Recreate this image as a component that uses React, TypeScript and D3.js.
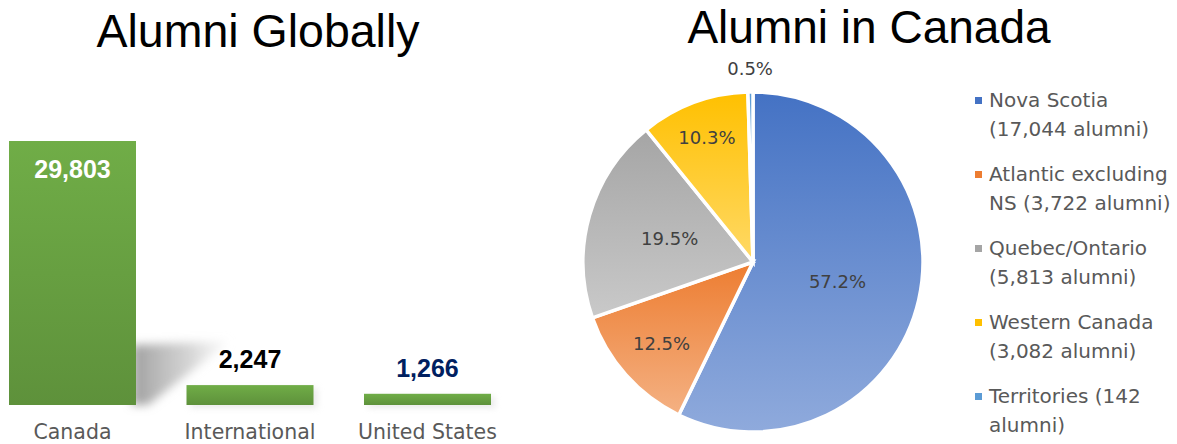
import React from "react";
import * as d3 from "d3";

const globalCategories = ["Canada", "International", "United States"];
const globalValues = [29803, 2247, 1266];

const canadaRegions = ["Nova Scotia", "Atlantic excluding NS", "Quebec/Ontario", "Western Canada", "Territories"];
const canadaValues = [17044, 3722, 5813, 3082, 142];
const legendLines = [
  ["Nova Scotia", "(17,044 alumni)"],
  ["Atlantic excluding", "NS (3,722 alumni)"],
  ["Quebec/Ontario", "(5,813 alumni)"],
  ["Western Canada", "(3,082 alumni)"],
  ["Territories (142", "alumni)"],
];

const valueColors = ["#ffffff", "#000000", "#002060"];
const sliceTop = ["#4472C4", "#ED7D31", "#A5A5A5", "#FFC000", "#5B9BD5"];
const sliceBottom = ["#8FAADC", "#F4B183", "#C9C9C9", "#FFD966", "#9DC3E6"];
const labelRadiusFactor = [0.51, 0.72, 0.51, 0.78, 1.14];

export default function App() {
  const W = 1177, H = 444;
  const x = d3.scaleBand<string>().domain(globalCategories).range([9, 491]).paddingInner(0.2845).paddingOuter(0);
  const y = d3.scaleLinear().domain([0, 29803]).range([405, 141]);
  const fmt = d3.format(",");

  const cx = 753, cy = 262, R = 170;
  const total = d3.sum(canadaValues);
  const pie = d3.pie<number>().sort(null).startAngle(0).endAngle(2 * Math.PI);
  const arcs = pie(canadaValues);
  const arc = d3.arc<d3.PieArcDatum<number>>().innerRadius(0).outerRadius(R);
  const pct = d3.format(".1%");
  const font = "'DejaVu Sans', sans-serif";

  const x0 = (x("Canada") as number) + x.bandwidth();
  const yb = y(0);

  return (
    <svg width={W} height={H} style={{ position: "absolute", left: 0, top: 0, background: "#fff" }}>
      <defs>
        <linearGradient id="barGrad" x1="0" y1="0" x2="0" y2="1">
          <stop offset="0" stopColor="#70AD47" />
          <stop offset="1" stopColor="#5E913B" />
        </linearGradient>
        <linearGradient id="shGrad" x1="0" y1="0" x2="1" y2="0">
          <stop offset="0" stopColor="#9a9a9a" stopOpacity={0.95} />
          <stop offset="0.6" stopColor="#c4c4c4" stopOpacity={0.7} />
          <stop offset="1" stopColor="#e6e6e6" stopOpacity={0.2} />
        </linearGradient>
        <filter id="blur" x="-50%" y="-50%" width="200%" height="200%">
          <feGaussianBlur stdDeviation="5" />
        </filter>
        <filter id="blurS" x="-50%" y="-50%" width="200%" height="200%">
          <feGaussianBlur stdDeviation="3" />
        </filter>
        {arcs.map((a, i) => (
          <linearGradient key={i} id={`sg${i}`} x1="0" y1="0" x2="0" y2="1">
            <stop offset="0" stopColor={sliceTop[i]} />
            <stop offset="1" stopColor={sliceBottom[i]} />
          </linearGradient>
        ))}
      </defs>

      {/* Titles */}
      <text x={258} y={47} textAnchor="middle" fontFamily="'Liberation Sans', Arial, sans-serif" fontSize={46.5} fill="#000">Alumni Globally</text>
      <text x={869} y={43} textAnchor="middle" fontFamily="'Liberation Sans', Arial, sans-serif" fontSize={46} fill="#000">Alumni in Canada</text>

      {/* Bar shadows */}
      <polygon
        points={`${x0 - 4},${yb - 60} ${x0 + 94},${yb - 64} ${x0 + 12},${yb} ${x0 - 4},${yb}`}
        fill="url(#shGrad)"
        filter="url(#blur)"
      />
      {globalCategories.slice(1).map((c, i) => (
        <rect key={c} x={(x(c) as number) + 4} y={y(globalValues[i + 1]) + 3} width={x.bandwidth()} height={y(0) - y(globalValues[i + 1])} fill="#d6d6d6" opacity={0.5} filter="url(#blurS)" />
      ))}

      {/* Bars */}
      {globalCategories.map((c, i) => (
        <rect key={c} x={x(c)} y={y(globalValues[i])} width={x.bandwidth()} height={y(0) - y(globalValues[i])} fill="url(#barGrad)" />
      ))}

      {/* Bar value labels */}
      {globalCategories.map((c, i) => {
        const inside = i === 0;
        const ty = inside ? y(globalValues[i]) + 37 : y(globalValues[i]) - 17;
        return (
          <text key={c} x={(x(c) as number) + x.bandwidth() / 2} y={ty} textAnchor="middle" fontFamily="'Liberation Sans', Arial, sans-serif" fontWeight="bold" fontSize={25} fill={valueColors[i]}>
            {fmt(globalValues[i])}
          </text>
        );
      })}

      {/* Category labels */}
      {globalCategories.map((c) => (
        <text key={c} x={(x(c) as number) + x.bandwidth() / 2} y={439} textAnchor="middle" fontFamily={font} fontSize={20.5} fill="#595959">{c}</text>
      ))}

      {/* Pie */}
      <g transform={`translate(${cx},${cy})`}>
        {arcs.map((a, i) => (
          <path key={i} d={arc(a) || ""} fill={`url(#sg${i})`} stroke="#fff" strokeWidth={3.5} strokeLinejoin="miter" />
        ))}
        {arcs.map((a, i) => {
          const mid = (a.startAngle + a.endAngle) / 2;
          const r = R * labelRadiusFactor[i];
          return (
            <text key={i} x={Math.sin(mid) * r} y={-Math.cos(mid) * r} textAnchor="middle" dominantBaseline="central" fontFamily={font} fontSize={18} fill="#404040">
              {pct(canadaValues[i] / total)}
            </text>
          );
        })}
      </g>

      {/* Legend */}
      {canadaRegions.map((r, i) => {
        const ly = 100 + i * 74;
        return (
          <g key={r}>
            <rect x={975} y={ly - 3} width={7} height={7} fill={sliceTop[i]} />
            <text x={989} y={ly} dominantBaseline="central" fontFamily={font} fontSize={20} fill="#595959">{legendLines[i][0]}</text>
            <text x={989} y={ly + 29} dominantBaseline="central" fontFamily={font} fontSize={20} fill="#595959">{legendLines[i][1]}</text>
          </g>
        );
      })}
    </svg>
  );
}
